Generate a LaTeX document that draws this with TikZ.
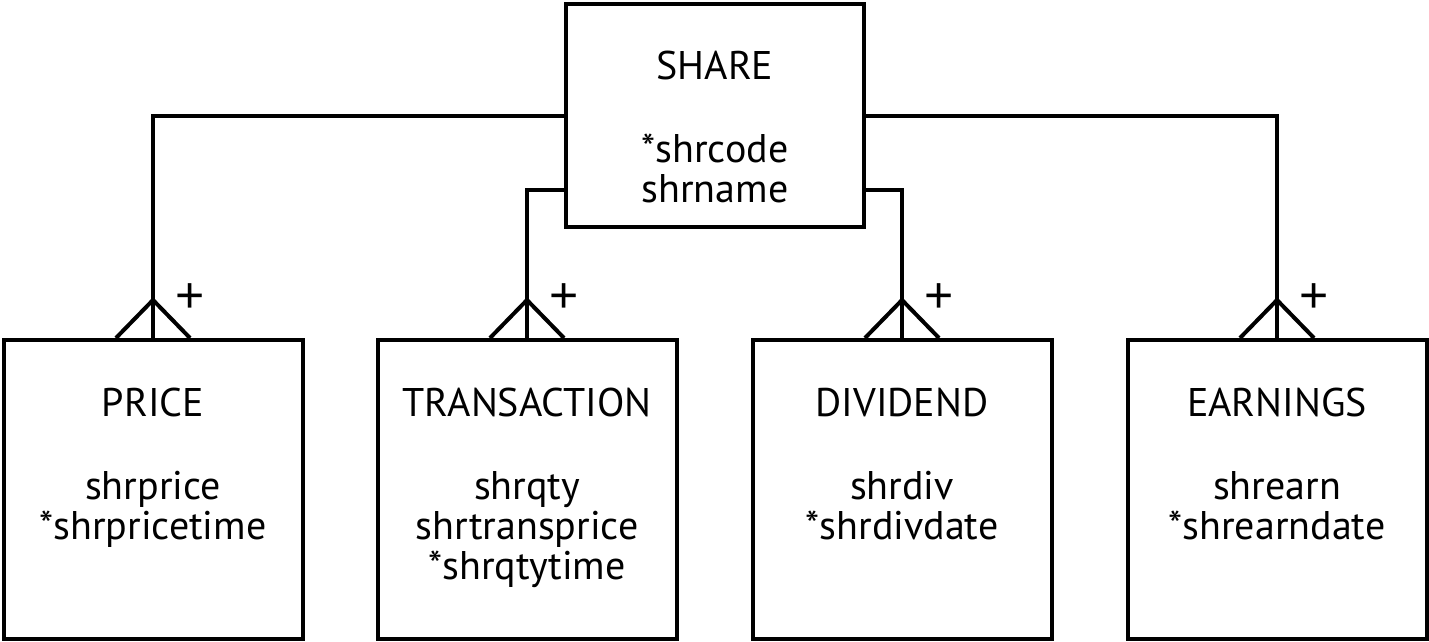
\documentclass[tikz,border=0pt]{standalone}
\usepackage{fontspec}
\setmainfont{PT Sans}
\newfontfamily\plusfont{Liberation Sans}
\usetikzlibrary{calc}
\begin{document}
\begin{tikzpicture}[x=1pt,y=-1pt,
  entity/.style={draw, line width=4pt, minimum width=299pt, minimum height=299pt, inner sep=0pt},
  etext/.style={align=center, anchor=north, inner sep=0pt, font=\fontsize{40}{40}\selectfont},
  conn/.style={draw, line width=4pt, line join=miter},
  plussign/.style={inner sep=0pt, font=\plusfont\fontsize{50}{50}\selectfont}]
\useasboundingbox (0,0) rectangle (1429,642);
% entities
\node[entity, minimum width=298pt, minimum height=223pt] (share) at (715,115.5) {};
\node[entity] (price) at (153,489.5) {};
\node[entity] (trans) at (527,489.5) {};
\node[entity] (divd)  at (902,489.5) {};
\node[entity] (earn)  at (1277,489.5) {};
% texts
\node[etext] (sharet) at ($(share.north)+(0,49)$) {SHARE\\[43pt]{*}shrcode\\shrname};
\node[etext] (pricet) at ($(price.north)+(0,50)$) {PRICE\\[43pt]shrprice\\{*}shrpricetime};
\node[etext] (transt) at ($(trans.north)+(0,50)$) {TRANSACTION\\[43pt]shrqty\\shrtransprice\\{*}shrqtytime};
\node[etext] (divdt)  at ($(divd.north)+(0,50)$) {DIVIDEND\\[43pt]shrdiv\\{*}shrdivdate};
\node[etext] (earnt)  at ($(earn.north)+(0,50)$) {EARNINGS\\[43pt]shrearn\\{*}shrearndate};
% connector anchors on SHARE
\coordinate (sl1) at (share.west);
\coordinate (sl2) at ($(share.west)+(0,74)$);
\coordinate (sr1) at (share.east);
\coordinate (sr2) at ($(share.east)+(0,74)$);
% connectors
\path[conn] (sl1) -| (price.north);
\path[conn] (sl2) -| (trans.north);
\path[conn] (sr2) -| (divd.north);
\path[conn] (sr1) -| (earn.north);
% crow's feet and plus signs
\foreach \e in {price,trans,divd,earn}{
  \path[conn] ($(\e.north)+(-37,0)$) -- ($(\e.north)+(0,-38)$) -- ($(\e.north)+(37,0)$);
  \node[plussign] (\e plus) at ($(\e.north)+(37,-40)$) {+};
}
\end{tikzpicture}
\end{document}
